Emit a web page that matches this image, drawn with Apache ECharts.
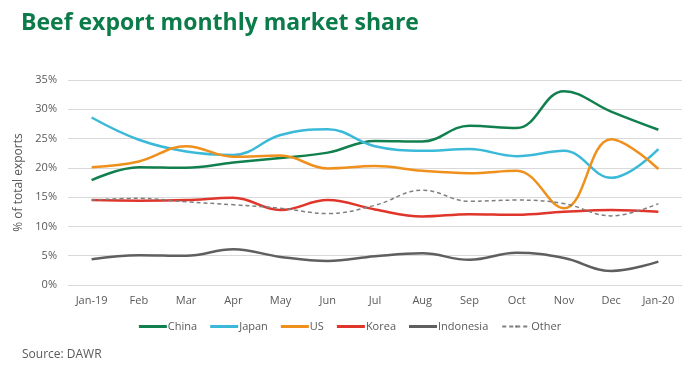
<!DOCTYPE html>
<html><head><meta charset="utf-8">
<script src="https://cdn.jsdelivr.net/npm/echarts@6/dist/echarts.min.js"></script>
<style>html,body{margin:0;padding:0;background:#fff}#c{width:700px;height:373px}</style>
</head><body><div id="c"></div>
<script>
const categories = ['Jan-19','Feb','Mar','Apr','May','Jun','Jul','Aug','Sep','Oct','Nov','Dec','Jan-20'];
const china     = [17.9, 20.1, 20.0, 20.9, 21.7, 22.6, 24.6, 24.5, 27.2, 26.8, 33.1, 29.6, 26.5];
const japan     = [28.6, 24.8, 22.8, 22.2, 25.6, 26.6, 23.7, 22.9, 23.2, 22.0, 22.9, 18.3, 23.2];
const us        = [20.1, 21.1, 23.7, 21.9, 22.1, 19.9, 20.3, 19.5, 19.1, 19.5, 13.1, 24.9, 19.8];
const korea     = [14.5, 14.4, 14.5, 14.9, 12.8, 14.5, 12.9, 11.7, 12.1, 12.0, 12.5, 12.8, 12.5];
const indonesia = [4.4, 5.1, 5.0, 6.1, 4.8, 4.1, 4.9, 5.4, 4.3, 5.5, 4.6, 2.4, 4.0];
const other     = [14.5, 14.8, 14.2, 13.7, 13.1, 12.2, 13.6, 16.2, 14.3, 14.5, 13.9, 11.8, 13.9];
const yTicks = [0, 5, 10, 15, 20, 25, 30, 35];

const seriesDefs = [
  ['China', china, '#12804E', 'solid'],
  ['Japan', japan, '#3BB9D8', 'solid'],
  ['US', us, '#F0901C', 'solid'],
  ['Korea', korea, '#E0352B', 'solid'],
  ['Indonesia', indonesia, '#5F5F5F', 'solid'],
  ['Other', other, '#7F7F7F', 'dashed']
];

const chart = echarts.init(document.getElementById('c'), null, {renderer:'canvas'});
chart.setOption({
  animation: false,
  title: [{
    text: 'Beef export monthly market share',
    left: 16, top: 7,
    textStyle: {fontFamily: 'Open Sans', fontWeight: 'bold', fontSize: 23, color: '#0B7C49'}
  },{
    text: 'Source: DAWR',
    left: 17, top: 344,
    textStyle: {fontFamily: 'Open Sans', fontWeight: 'normal', fontSize: 12, color: '#595959'}
  }],
  grid: {left: 68, right: 18, top: 80, bottom: 88},
  legend: {
    top: 316, left: 'center',
    itemWidth: 28, itemHeight: 3, itemGap: 13,
    textStyle: {fontFamily: 'Open Sans', fontSize: 11, color: '#595959', padding: [0,0,0,-4]},
    data: seriesDefs.map(s => s[3]==='dashed' ? {name: s[0]} : {name: s[0], icon: 'rect'})
  },
  xAxis: {
    type: 'category', data: categories, boundaryGap: true,
    axisLine: {show: true, lineStyle: {color: '#D9D9D9', width: 1}},
    axisTick: {show: false},
    axisLabel: {fontFamily: 'Open Sans', fontSize: 11, color: '#595959', margin: 10, interval: 0}
  },
  yAxis: {
    type: 'value', min: 0, max: 35, interval: 5,
    name: '% of total exports', nameLocation: 'middle', nameGap: 38,
    nameTextStyle: {fontFamily: 'Open Sans', fontSize: 12, color: '#595959'},
    axisLine: {show: false}, axisTick: {show: false},
    axisLabel: {fontFamily: 'Open Sans', fontSize: 11, color: '#595959', margin: 11,
      formatter: v => yTicks.includes(v) ? v + '%' : ''},
    splitLine: {lineStyle: {color: '#D9D9D9', width: 1}}
  },
  series: seriesDefs.map(s => ({
    name: s[0], type: 'line', data: s[1], smooth: 0.4, symbol: 'none',
    lineStyle: s[3]==='dashed' ? {color: s[2], width: 1.5, type: [4,3]} : {color: s[2], width: 2.5, type: 'solid'},
    itemStyle: {color: s[2]}
  }))
});
</script></body></html>
